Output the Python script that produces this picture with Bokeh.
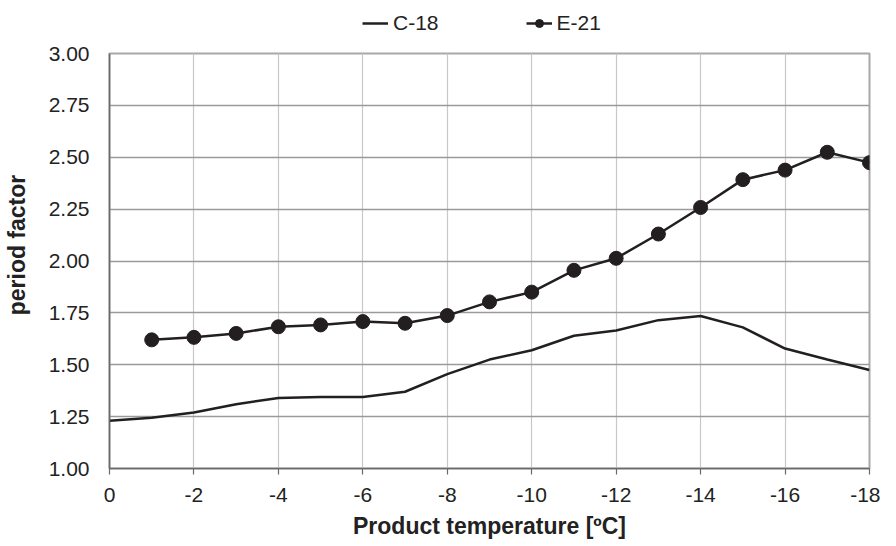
from bokeh.plotting import figure
from bokeh.layouts import column
from bokeh.models import Range1d, FixedTicker, NumeralTickFormatter, Legend, LegendItem
from bokeh.embed import file_html
from bokeh.resources import INLINE

# ---- data ----
temps_c18 = [0, -1, -2, -3, -4, -5, -6, -7, -8, -9, -10, -11, -12, -13, -14, -15, -16, -17, -18]
c18 = [1.23, 1.245, 1.27, 1.31, 1.34, 1.345, 1.345, 1.37, 1.455, 1.525, 1.57, 1.64, 1.665,
       1.715, 1.735, 1.68, 1.578, 1.525, 1.475]
temps_e21 = [-1, -2, -3, -4, -5, -6, -7, -8, -9, -10, -11, -12, -13, -14, -15, -16, -17, -18]
e21 = [1.62, 1.632, 1.651, 1.683, 1.692, 1.708, 1.70, 1.737, 1.803, 1.85, 1.955, 2.013,
       2.13, 2.258, 2.392, 2.438, 2.524, 2.474]
x_ticks = [0, -2, -4, -6, -8, -10, -12, -14, -16, -18]
y_ticks = [1.0, 1.25, 1.5, 1.75, 2.0, 2.25, 2.5, 2.75, 3.0]
series_names = ["C-18", "E-21"]
x_title = "Product temperature [ºC]"
y_title = "period factor"

FONT = "'Liberation Sans', Arial, sans-serif"
INK = "#231f20"
TXT = "#222222"

# ---- legend strip (small figure above the chart; its data lies outside its view) ----
leg = figure(width=880, height=40, output_backend="svg", toolbar_location=None,
             x_range=Range1d(100, 101), y_range=Range1d(100, 101),
             min_border_left=0, min_border_right=0, min_border_top=0, min_border_bottom=0,
             x_axis_type=None, y_axis_type=None)
leg.outline_line_color = None
leg.grid.visible = False
lr_c18 = leg.line(temps_c18, c18, line_color=INK, line_width=2.5)
lr_e21 = leg.line(temps_e21, e21, line_color=INK, line_width=2.5)
lr_e21m = leg.scatter(temps_e21, e21, marker="circle", size=11, fill_color=INK, line_color=INK)
legend = Legend(items=[LegendItem(label=series_names[0], renderers=[lr_c18]),
                       LegendItem(label=series_names[1], renderers=[lr_e21, lr_e21m])],
                location=(253, 5), orientation="horizontal")
legend.border_line_color = None
legend.background_fill_alpha = 0
legend.padding = 0
legend.margin = 0
legend.spacing = 87
legend.glyph_width = 26
legend.glyph_height = 20
legend.label_standoff = 5
legend.label_text_font = FONT
legend.label_text_font_size = "21px"
legend.label_text_color = TXT
leg.add_layout(legend, "center")

# ---- main chart ----
p = figure(width=880, height=501, output_backend="svg", toolbar_location=None,
           x_range=Range1d(0, -18), y_range=Range1d(1, 3),
           min_border_left=102, min_border_right=11, min_border_top=13, min_border_bottom=73)
p.background_fill_color = "white"
p.border_fill_color = "white"
p.outline_line_color = "#a8a8a8"
p.outline_line_width = 2

p.xgrid.ticker = FixedTicker(ticks=x_ticks)
p.ygrid.ticker = FixedTicker(ticks=y_ticks)
p.xgrid.grid_line_color = "#c8c8c8"
p.xgrid.grid_line_width = 1.2
p.ygrid.grid_line_color = "#9a9a9a"
p.ygrid.grid_line_width = 1.5

xa = p.xaxis[0]
xa.ticker = FixedTicker(ticks=x_ticks)
xa.major_label_overrides = {t: str(t) for t in x_ticks}
xa.axis_line_color = "#6a6a6a"
xa.axis_line_width = 1.5
xa.major_tick_line_color = "#6a6a6a"
xa.major_tick_line_width = 1.2
xa.major_tick_out = 6
xa.major_tick_in = 0
xa.minor_tick_line_color = None
xa.major_label_text_font = FONT
xa.major_label_text_font_size = "21px"
xa.major_label_text_color = TXT
xa.major_label_standoff = 13
xa.axis_label = x_title
xa.axis_label_text_font = FONT
xa.axis_label_text_font_style = "bold"
xa.axis_label_text_font_size = "23px"
xa.axis_label_text_color = TXT
xa.axis_label_standoff = 8

ya = p.yaxis[0]
ya.ticker = FixedTicker(ticks=y_ticks)
ya.formatter = NumeralTickFormatter(format="0.00")
ya.axis_line_color = "#6a6a6a"
ya.axis_line_width = 1.5
ya.major_tick_out = 0
ya.major_tick_in = 0
ya.minor_tick_line_color = None
ya.major_label_text_font = FONT
ya.major_label_text_font_size = "21px"
ya.major_label_text_color = TXT
ya.major_label_standoff = 20
# leading no-break spaces nudge the rotated title slightly upward, as in the reference
ya.axis_label = "\u00a0" * 5 + y_title
ya.axis_label_text_font = FONT
ya.axis_label_text_font_style = "bold"
ya.axis_label_text_font_size = "23px"
ya.axis_label_text_color = TXT
ya.axis_label_standoff = 16

p.line(temps_c18, c18, line_color=INK, line_width=2.5)
p.line(temps_e21, e21, line_color=INK, line_width=2.5)
p.scatter(temps_e21, e21, marker="circle", size=14, fill_color=INK, line_color=INK)

layout = column(leg, p, spacing=0)
open("out.html", "w").write(file_html(layout, INLINE))
